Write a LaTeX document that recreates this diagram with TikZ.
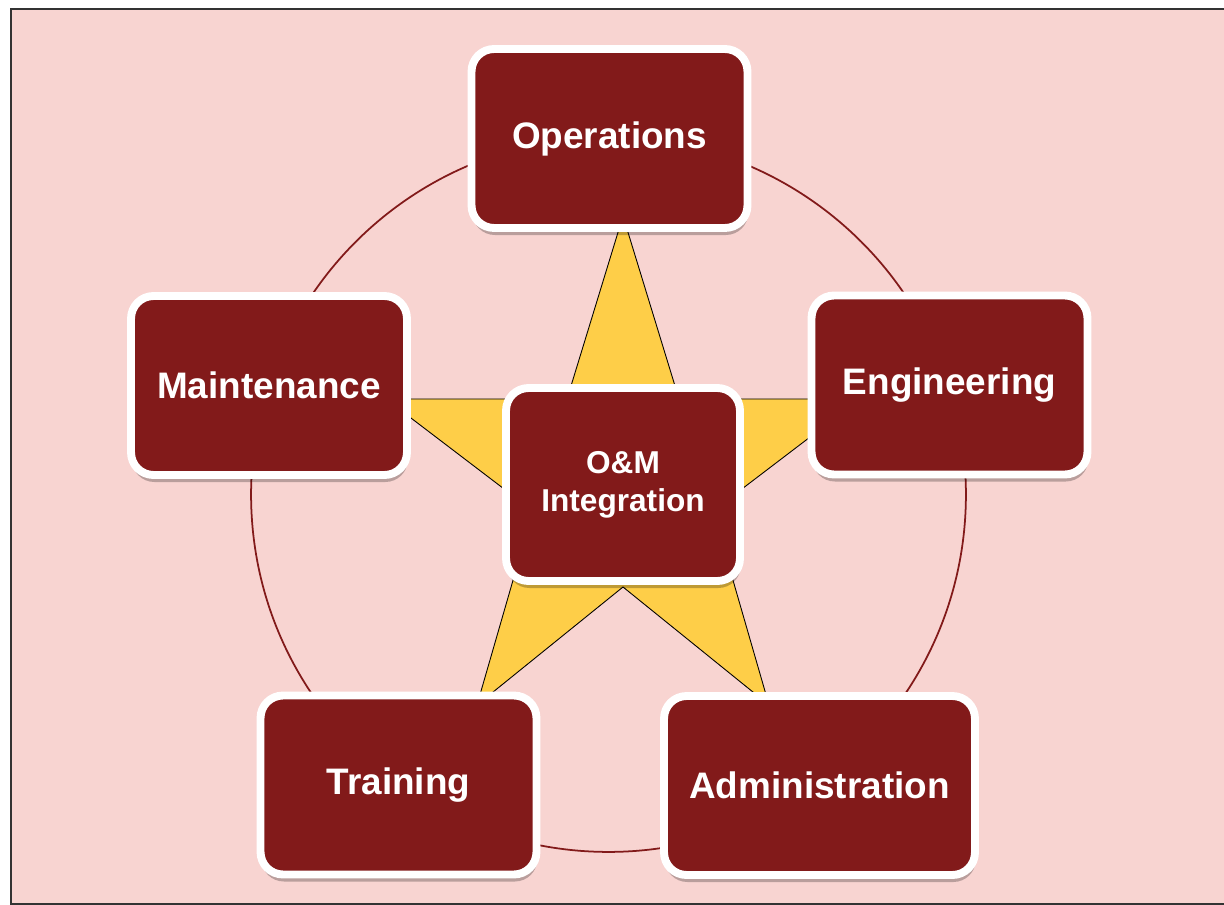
\documentclass[tikz,border=0pt]{standalone}
\usepackage{fontspec}
\setmainfont{Liberation Sans}
\usetikzlibrary{shadows}
\definecolor{bgpink}{RGB}{248,212,209}
\definecolor{boxred}{RGB}{130,26,26}
\definecolor{staryellow}{RGB}{254,206,72}

\begin{document}
\begin{tikzpicture}[x=0.02cm, y=-0.02cm,
  area/.style={draw=white, line width=4.5pt, fill=boxred, rounded corners=0.45cm,
    text=white, font=\bfseries\fontsize{21}{25}\selectfont, align=center, inner sep=0pt,
    minimum width=5.52cm, minimum height=3.58cm,
    drop shadow={shadow xshift=0.5pt, shadow yshift=-4pt, opacity=0.25, fill=black}},
  hub/.style={area, minimum width=4.68cm, minimum height=3.86cm,
    font=\bfseries\fontsize{18}{21.6}\selectfont}]
  \useasboundingbox (0,0) rectangle (1224,905);
  % slide background
  \draw[fill=bgpink, draw=black!80, line width=0.8pt] (11,9) rectangle (1240,904);
  % ring and star behind the boxes
  \draw[boxred, line width=1pt] (608.5,494.5) circle (7.15cm);
  \draw[fill=staryellow, line width=0.5pt, line join=miter]
    (623,216) -- (679,399) -- (860,399) -- (713,511) -- (769,705) -- (623,587)
    -- (477,705) -- (533,511) -- (386,399) -- (567,399) -- cycle;
  % the five areas and the hub
  \node[area] (ops)   at (609.5,138.5) {Operations};
  \node[area] (eng)   at (949.5,385)   {Engineering};
  \node[area, minimum width=6.22cm] (admin) at (819.5,785.5) {Administration};
  \node[area] (train) at (398.5,785)   {Training};
  \node[area] (maint) at (269,385.5)   {Maintenance};
  \node[hub]  (om)    at (623,484.5)   {O\&M\\Integration};
\end{tikzpicture}
\end{document}
